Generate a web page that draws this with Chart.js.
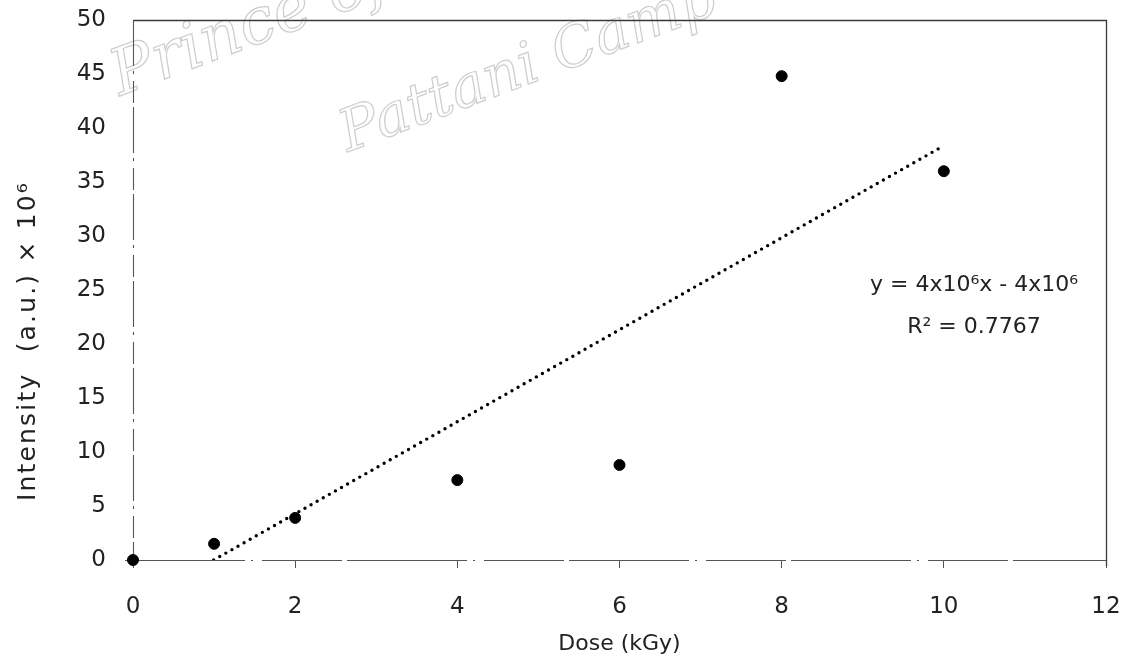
<!DOCTYPE html>
<html>
<head>
<meta charset="utf-8">
<script src="https://cdn.jsdelivr.net/npm/chart.js@4.4.1/dist/chart.umd.min.js"></script>
<style>
  html, body { margin: 0; padding: 0; background: #fff; }
  #wrap { width: 1131px; height: 662px; position: relative; }
</style>
</head>
<body>
<div id="wrap"><canvas id="c" width="1131" height="662"></canvas></div>
<script>
// Dose (kGy) and measured intensity (a.u., in units of 10^6)
const doses = [0, 1, 2, 4, 6, 8, 10];
const intensities = [0, 1.5, 3.9, 7.4, 8.8, 44.8, 36.0];

const xTickValues = [0, 2, 4, 6, 8, 10, 12];
const yTickValues = [0, 5, 10, 15, 20, 25, 30, 35, 40, 45, 50];

const xTitle = 'Dose (kGy)';
const yTitle = 'Intensity  (a.u.) \u00d7 10\u2076';
const equationText = 'y = 4x10\u2076x - 4x10\u2076';
const r2Text = 'R\u00b2 = 0.7767';
const watermarkLines = ['Prince of', 'Pattani Camp'];

// Least-squares linear fit for the trendline
function linearFit(xs, ys) {
  const n = xs.length;
  const mx = xs.reduce((a, b) => a + b, 0) / n;
  const my = ys.reduce((a, b) => a + b, 0) / n;
  let sxy = 0, sxx = 0;
  for (let i = 0; i < n; i++) {
    sxy += (xs[i] - mx) * (ys[i] - my);
    sxx += (xs[i] - mx) * (xs[i] - mx);
  }
  const slope = sxy / sxx;
  return { slope, intercept: my - slope * mx };
}
const fit = linearFit(doses, intensities);
const xMaxData = Math.max(...doses);
// trendline starts where it crosses the y = 0 axis
const xStart = Math.max(Math.min(...doses), -fit.intercept / fit.slope);
const trendPoints = [
  { x: xStart, y: fit.slope * xStart + fit.intercept },
  { x: xMaxData, y: fit.slope * xMaxData + fit.intercept }
];

const FONT = '"DejaVu Sans", "Liberation Sans", sans-serif';
const TEXT = '#222';

// Plot frame: solid top/right edges, scan-like broken left/bottom axes
const framePlugin = {
  id: 'frame',
  beforeDatasetsDraw(chart) {
    const { ctx, chartArea: a } = chart;
    ctx.save();
    ctx.lineWidth = 1.3;
    ctx.strokeStyle = '#3a3a3a';
    ctx.beginPath();
    ctx.moveTo(a.left, a.top + 0.5);
    ctx.lineTo(a.right + 0.5, a.top + 0.5);
    ctx.lineTo(a.right + 0.5, a.bottom + 6);
    ctx.stroke();
    ctx.strokeStyle = '#555';
    ctx.lineWidth = 1.1;
    ctx.setLineDash([46, 5, 3, 7, 22, 4]);
    ctx.beginPath();
    ctx.moveTo(a.left + 0.5, a.top);
    ctx.lineTo(a.left + 0.5, a.bottom);
    ctx.stroke();
    ctx.setLineDash([120, 6, 2, 9, 80, 5]);
    ctx.beginPath();
    ctx.moveTo(a.left - 8, a.bottom + 0.5);
    ctx.lineTo(a.right, a.bottom + 0.5);
    ctx.stroke();
    ctx.restore();
  }
};

// Faint outlined watermark text behind the data
const watermarkPlugin = {
  id: 'watermark',
  beforeDraw(chart) {
    const { ctx } = chart;
    const draw = (text, x, y, size) => {
      ctx.save();
      ctx.font = 'italic ' + size + 'px "DejaVu Serif", serif';
      ctx.strokeStyle = '#cdcdcd';
      ctx.lineWidth = 1.2;
      ctx.translate(x, y);
      ctx.rotate(-0.36);
      ctx.strokeText(text, 0, 0);
      ctx.restore();
    };
    draw(watermarkLines[0], 120, 96, 64);
    draw(watermarkLines[1], 348, 152, 58);
  }
};

// Rotated y-axis title
const yTitlePlugin = {
  id: 'yTitle',
  afterDraw(chart) {
    const { ctx } = chart;
    ctx.save();
    ctx.fillStyle = TEXT;
    ctx.font = '25px ' + FONT;
    ctx.textAlign = 'center';
    ctx.textBaseline = 'middle';
    const w0 = ctx.measureText(yTitle).width;
    const spacing = Math.max(0, (318 - w0) / (yTitle.length - 1));
    ctx.letterSpacing = spacing.toFixed(2) + 'px';
    ctx.translate(28, 341);
    ctx.rotate(-Math.PI / 2);
    ctx.fillText(yTitle, 0, 0);
    ctx.restore();
  }
};

// Trendline equation and R-squared
const equationPlugin = {
  id: 'equation',
  afterDatasetsDraw(chart) {
    const { ctx, chartArea: a } = chart;
    ctx.save();
    ctx.fillStyle = TEXT;
    ctx.font = '22px ' + FONT;
    ctx.textAlign = 'center';
    ctx.textBaseline = 'middle';
    const cx = a.right - 132;
    ctx.fillText(equationText, cx, a.top + 265);
    ctx.fillText(r2Text, cx, a.top + 307);
    ctx.restore();
  }
};

// Tick labels may overhang the plot edges without shrinking the plot
function noOverhang(scale) {
  scale.paddingTop = 0;
  scale.paddingBottom = 0;
  scale.paddingLeft = 0;
  scale.paddingRight = 0;
}

new Chart(document.getElementById('c'), {
  type: 'scatter',
  data: {
    datasets: [
      {
        label: 'Intensity',
        data: doses.map((d, i) => ({ x: d, y: intensities[i] })),
        backgroundColor: '#000',
        borderColor: '#000',
        pointRadius: 5.5,
        pointHoverRadius: 5.5,
        clip: false,
        order: 1
      },
      {
        label: 'Linear fit',
        type: 'line',
        data: trendPoints,
        borderColor: '#000',
        borderWidth: 3.4,
        borderDash: [0, 7],
        borderCapStyle: 'round',
        pointRadius: 0,
        fill: false,
        order: 2
      }
    ]
  },
  plugins: [watermarkPlugin, framePlugin, equationPlugin, yTitlePlugin],
  options: {
    responsive: false,
    animation: false,
    layout: { padding: { top: 20, right: 25, left: 0, bottom: 0 } },
    plugins: {
      legend: { display: false },
      tooltip: { enabled: false }
    },
    scales: {
      x: {
        type: 'linear',
        min: 0,
        max: 12,
        afterBuildTicks(scale) { scale.ticks = xTickValues.map(v => ({ value: v })); },
        afterFit(scale) { scale.height = 102; noOverhang(scale); },
        border: { display: false },
        grid: {
          display: true,
          drawOnChartArea: false,
          drawTicks: true,
          tickLength: 8,
          tickColor: '#555',
          lineWidth: 1
        },
        ticks: {
          padding: 25,
          color: TEXT,
          font: { family: FONT, size: 23 }
        },
        title: {
          display: true,
          text: xTitle,
          color: TEXT,
          font: { family: FONT, size: 22 },
          padding: { top: 0, bottom: 5 }
        }
      },
      y: {
        type: 'linear',
        min: 0,
        max: 50,
        afterBuildTicks(scale) { scale.ticks = yTickValues.map(v => ({ value: v })); },
        afterFit(scale) { scale.width = 133; noOverhang(scale); },
        border: { display: false },
        grid: { display: false, drawTicks: false },
        ticks: {
          padding: 27,
          color: TEXT,
          font: { family: FONT, size: 23 }
        },
        title: { display: false }
      }
    }
  }
});
</script>
</body>
</html>
